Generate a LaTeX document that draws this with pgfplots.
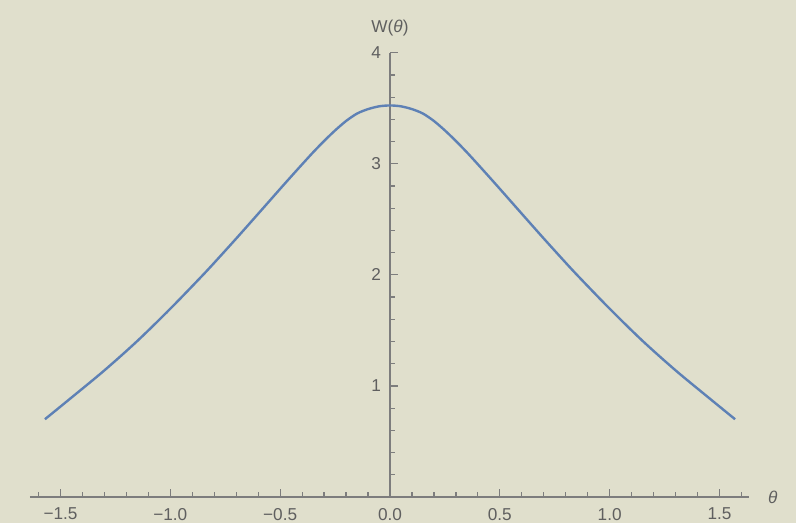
\documentclass[border=0pt]{standalone}
\usepackage{fontspec}
\setmainfont{Liberation Sans}
\usepackage{pgfplots}
\pgfplotsset{compat=1.18}
\definecolor{bgc}{RGB}{224,223,204}
\definecolor{axc}{RGB}{125,125,125}
\definecolor{lblc}{RGB}{95,95,95}
\definecolor{curve}{RGB}{94,129,181}
\begin{document}
\begin{tikzpicture}
\fill[bgc] (-195pt,-13pt) rectangle (203pt,261.5pt-13pt);
\begin{axis}[
  at={(0,0)}, anchor=origin,
  scale only axis,
  width=359.5pt, height=222.15pt,
  xmin=-1.639, xmax=1.634, ymin=0, ymax=4,
  axis lines=middle,
  hide obscured x ticks=false,
  axis line style={-, draw=axc, line width=0.6pt},
  tick style={draw=axc, line width=0.6pt},
  tick align=inside,
  major tick length=4pt, minor tick length=2.3pt,
  xtick={-1.5,-1,-0.5,0,0.5,1,1.5},
  xticklabels={−1.5,−1.0,−0.5,0.0,0.5,1.0,1.5},
  minor xtick={-1.6,-1.4,-1.3,-1.2,-1.1,-0.9,-0.8,-0.7,-0.6,-0.4,-0.3,-0.2,-0.1,0.1,0.2,0.3,0.4,0.6,0.7,0.8,0.9,1.1,1.2,1.3,1.4,1.6},
  ytick={1,2,3,4},
  yticklabels={1,2,3,4},
  minor ytick={0.2,0.4,0.6,0.8,1.2,1.4,1.6,1.8,2.2,2.4,2.6,2.8,3.2,3.4,3.6,3.8},
  ticklabel style={font=\fontsize{8.6}{10}\selectfont, text=lblc},
  xticklabel style={anchor=north, yshift=-2pt},
  yticklabel style={anchor=east, xshift=-1pt},
  xlabel={\textit{θ}},
  ylabel={W(\textit{θ})},
  label style={font=\fontsize{8.6}{10}\selectfont, text=lblc},
  xlabel style={at={(rel axis cs:1,0)}, anchor=west, xshift=6pt},
  ylabel style={at={(axis cs:0,4)}, anchor=base, yshift=10.2pt, rotate=0},
  clip=false,
]
\addplot[curve, line width=1.2pt, smooth, tension=0.5] coordinates {
(-1.5708,0.70) (-1.45,0.895) (-1.3,1.14) (-1.15,1.405) (-1.0,1.695) (-0.85,2.002)
(-0.775,2.163) (-0.7,2.327) (-0.625,2.494) (-0.55,2.662) (-0.475,2.83) (-0.4,2.995)
(-0.35,3.103) (-0.3,3.205) (-0.25,3.30) (-0.2,3.385) (-0.15,3.452) (-0.1,3.492) (-0.05,3.517)
(0,3.525)
(0.05,3.517) (0.1,3.492) (0.15,3.452) (0.2,3.385) (0.25,3.30) (0.3,3.205) (0.35,3.103)
(0.4,2.995) (0.475,2.83) (0.55,2.662) (0.625,2.494) (0.7,2.327) (0.775,2.163)
(0.85,2.002) (1.0,1.695) (1.15,1.405) (1.3,1.14) (1.45,0.895) (1.5708,0.70)
};
\end{axis}
\end{tikzpicture}
\end{document}
